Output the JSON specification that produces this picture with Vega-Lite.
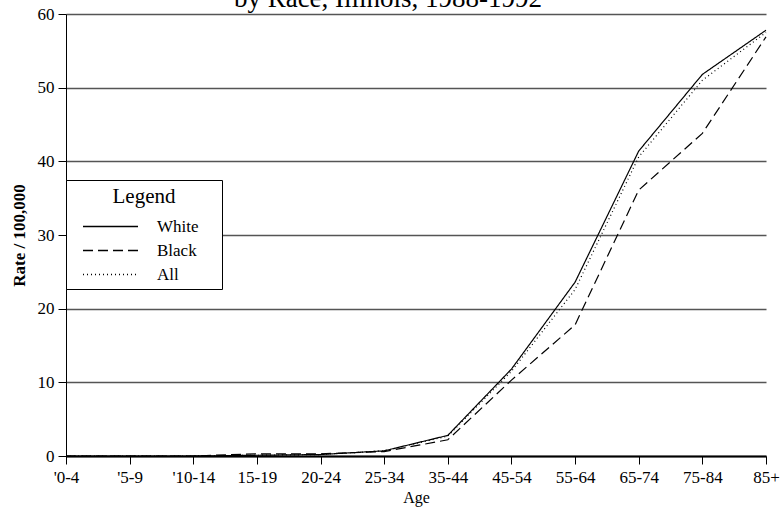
{
  "$schema": "https://vega.github.io/schema/vega-lite/v6.json",
  "width": 700,
  "height": 442,
  "autosize": {"type": "none"},
  "padding": {"left": 66, "top": 14, "right": 14, "bottom": 56},
  "background": "white",
  "title": {
    "text": "by Race, Illinois, 1988-1992",
    "font": "Liberation Serif",
    "fontSize": 27,
    "fontWeight": "normal",
    "color": "black",
    "anchor": "middle",
    "baseline": "alphabetic",
    "offset": 6,
    "dx": -28,
    "dy": 35
  },
  "config": {
    "view": {"stroke": null},
    "font": "Liberation Serif",
    "axis": {
      "labelFont": "Liberation Serif",
      "titleFont": "Liberation Serif",
      "labelColor": "black",
      "titleColor": "black",
      "labelFontSize": 17,
      "domainColor": "black",
      "tickColor": "black",
      "tickSize": 8
    }
  },
  "data": {
    "values": [
      {"age": "'0-4", "race": "White", "rate": 0},
      {"age": "'5-9", "race": "White", "rate": 0},
      {"age": "'10-14", "race": "White", "rate": 0},
      {"age": "15-19", "race": "White", "rate": 0.1},
      {"age": "20-24", "race": "White", "rate": 0.2},
      {"age": "25-34", "race": "White", "rate": 0.7},
      {"age": "35-44", "race": "White", "rate": 2.8},
      {"age": "45-54", "race": "White", "rate": 11.8},
      {"age": "55-64", "race": "White", "rate": 23.6},
      {"age": "65-74", "race": "White", "rate": 41.4},
      {"age": "75-84", "race": "White", "rate": 51.8},
      {"age": "85+", "race": "White", "rate": 57.8},
      {"age": "'0-4", "race": "Black", "rate": 0},
      {"age": "'5-9", "race": "Black", "rate": 0},
      {"age": "'10-14", "race": "Black", "rate": 0},
      {"age": "15-19", "race": "Black", "rate": 0.3},
      {"age": "20-24", "race": "Black", "rate": 0.3},
      {"age": "25-34", "race": "Black", "rate": 0.6},
      {"age": "35-44", "race": "Black", "rate": 2.2},
      {"age": "45-54", "race": "Black", "rate": 10.3},
      {"age": "55-64", "race": "Black", "rate": 17.8},
      {"age": "65-74", "race": "Black", "rate": 36.1},
      {"age": "75-84", "race": "Black", "rate": 43.8},
      {"age": "85+", "race": "Black", "rate": 56.9},
      {"age": "'0-4", "race": "All", "rate": 0},
      {"age": "'5-9", "race": "All", "rate": 0},
      {"age": "'10-14", "race": "All", "rate": 0},
      {"age": "15-19", "race": "All", "rate": 0.1},
      {"age": "20-24", "race": "All", "rate": 0.2},
      {"age": "25-34", "race": "All", "rate": 0.7},
      {"age": "35-44", "race": "All", "rate": 2.7},
      {"age": "45-54", "race": "All", "rate": 11.5},
      {"age": "55-64", "race": "All", "rate": 22.6},
      {"age": "65-74", "race": "All", "rate": 40.6},
      {"age": "75-84", "race": "All", "rate": 51.0},
      {"age": "85+", "race": "All", "rate": 57.5}
    ]
  },
  "mark": {"type": "line", "color": "black", "strokeWidth": 1.2},
  "encoding": {
    "x": {
      "field": "age",
      "type": "ordinal",
      "sort": null,
      "scale": {"type": "point", "padding": 0},
      "axis": {
        "title": "Age",
        "titleFontSize": 16,
        "titleFontWeight": "normal",
        "titlePadding": 4,
        "labelAngle": 0,
        "labelPadding": 5,
        "domainWidth": 2,
        "grid": false
      }
    },
    "y": {
      "field": "rate",
      "type": "quantitative",
      "scale": {"domain": [0, 60], "nice": false},
      "axis": {
        "title": "Rate / 100,000",
        "titleFontSize": 17,
        "titleFontWeight": "bold",
        "titlePadding": 9,
        "values": [0, 10, 20, 30, 40, 50, 60],
        "labelPadding": 4,
        "grid": true,
        "gridColor": "#555555",
        "gridWidth": 1.3
      }
    },
    "strokeDash": {
      "field": "race",
      "type": "nominal",
      "sort": null,
      "scale": {"domain": ["White", "Black", "All"], "range": [[1, 0], [10, 5], [1, 3]]},
      "legend": {
        "title": "Legend",
        "orient": "none",
        "legendX": 0,
        "legendY": 166,
        "titleFont": "Liberation Serif",
        "titleFontSize": 21,
        "titleFontWeight": "normal",
        "titleColor": "black",
        "titleAnchor": "middle",
        "titlePadding": 11,
        "labelFont": "Liberation Serif",
        "labelFontSize": 17,
        "labelColor": "black",
        "symbolType": "M-5,0H5M18.6,0",
        "symbolSize": 121,
        "symbolOffset": 30,
        "labelOffset": 38,
        "symbolStrokeColor": "black",
        "symbolStrokeWidth": 1.5,
        "rowPadding": 6,
        "padding": 6,
        "fillColor": "white",
        "strokeColor": "black"
      }
    }
  }
}
